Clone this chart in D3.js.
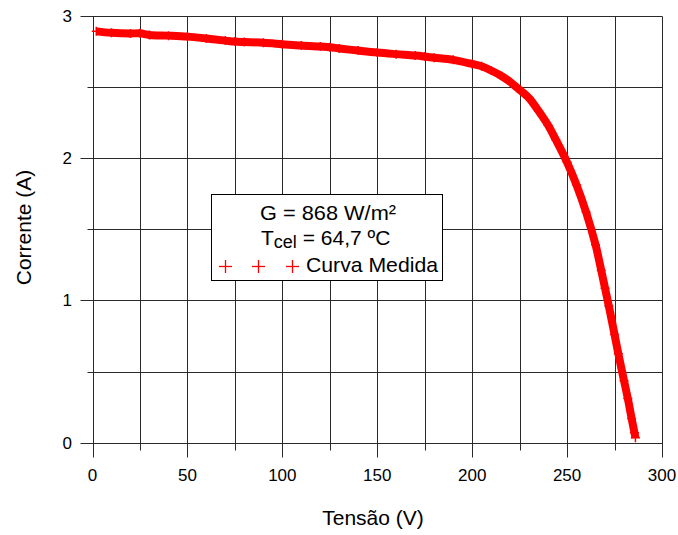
<!DOCTYPE html>
<html><head><meta charset="utf-8">
<script src="https://cdn.jsdelivr.net/npm/d3@7"></script>
<style>body{margin:0;background:#fff}svg{display:block;font-family:"Liberation Sans",Arial,sans-serif}</style>
</head><body><svg id="c" width="678" height="535"></svg>
<script>
const voltage = [2,10,20,25,30,40,50,60,70,75,80,90,100,110,120,125,130,140,150,160,170,175,180,190,200,205,210,215,220,224,230,235,240,244,250,255,260,265,268,270,272,275,277,280,282,284,285.5,286];
const current = [2.89,2.88,2.875,2.876,2.865,2.86,2.853,2.84,2.825,2.818,2.815,2.81,2.80,2.79,2.783,2.779,2.77,2.755,2.741,2.73,2.72,2.713,2.705,2.69,2.661,2.645,2.615,2.58,2.535,2.49,2.42,2.33,2.23,2.13,1.97,1.81,1.62,1.39,1.21,1.085,0.96,0.76,0.625,0.435,0.31,0.17,0.07,0.035];
const xTicks = [0,50,100,150,200,250,300];
const yTicks = [0,1,2,3];
const legendLines = ["G = 868 W/m²", "64,7 ºC", "Curva Medida"];

const svg = d3.select("#c");
const x = d3.scaleLinear().domain([0,300]).range([92.5,662]);
const y = d3.scaleLinear().domain([0,3]).range([442.7,15.7]);
const gridCol = "#2a2a2a";

const g = svg.append("g");
d3.range(0,301,25).forEach(v=>{
  const px = Math.round(x(v))+0.5;
  const major = v%50===0;
  g.append("line").attr("x1",px).attr("x2",px).attr("y1",Math.round(y(3))+0.5).attr("y2",Math.round(y(0))+0.5+(major?14:7))
   .attr("stroke",gridCol).attr("stroke-width",1);
});
d3.range(0,3.01,0.5).forEach(v=>{
  const py = Math.round(y(v))+0.5;
  const major = Math.abs(v-Math.round(v))<1e-9;
  g.append("line").attr("y1",py).attr("y2",py).attr("x1",Math.round(x(0))+0.5-(major?13:6)).attr("x2",Math.round(x(300))+0.5)
   .attr("stroke",gridCol).attr("stroke-width",1);
});
svg.append("g").selectAll("text").data(xTicks).join("text")
  .attr("x",d=>x(d)).attr("y",481).attr("text-anchor","middle").attr("font-size",17).text(d=>d);
svg.append("g").selectAll("text").data(yTicks).join("text")
  .attr("x",72).attr("y",d=>y(d)+6).attr("text-anchor","end").attr("font-size",17).text(d=>d);
svg.append("text").attr("x",373).attr("y",525).attr("text-anchor","middle").attr("font-size",21).text("Tensão (V)");
svg.append("text").attr("transform","translate(31,227.5) rotate(-90)").attr("text-anchor","middle").attr("font-size",21).text("Corrente (A)");

const line = d3.line().x((d,i)=>x(voltage[i])).y((d,i)=>y(current[i])).curve(d3.curveCatmullRom.alpha(0.5));
svg.append("path").datum(current).attr("d",line).attr("fill","none").attr("stroke","#ff0000").attr("stroke-width",8).attr("stroke-linejoin","round").attr("stroke-linecap","butt");
svg.append("g").selectAll("path").data(current).join("path")
  .attr("transform",(d,i)=>`translate(${x(voltage[i])},${y(d)})`)
  .attr("d","M-4.5,0H4.5M0,-4.5V4.5")
  .attr("stroke","#ff0000").attr("stroke-width",1.5).attr("fill","none");

const lg = svg.append("g");
lg.append("rect").attr("x",211.5).attr("y",194.5).attr("width",231).attr("height",86).attr("fill","#fff").attr("stroke","#000").attr("stroke-width",1);
lg.append("text").attr("x",260).attr("y",219.5).attr("font-size",21).attr("textLength",136).attr("lengthAdjust","spacingAndGlyphs").text(legendLines[0]);
const t2 = lg.append("text").attr("x",261).attr("y",244.5).attr("font-size",21);
t2.append("tspan").text("T");
t2.append("tspan").attr("font-size",18).attr("dy",3).text("cel");
t2.append("tspan").attr("dy",-3).text(" = " + legendLines[1]);
[225.5,258.5,292.5].forEach(px=>{
  lg.append("line").attr("x1",px-6.5).attr("x2",px+6.5).attr("y1",266.5).attr("y2",266.5).attr("stroke","#ff0000").attr("stroke-width",1.3);
  lg.append("line").attr("x1",px).attr("x2",px).attr("y1",260).attr("y2",273).attr("stroke","#ff0000").attr("stroke-width",1.3);
});
lg.append("text").attr("x",306).attr("y",272).attr("font-size",21).attr("textLength",132).attr("lengthAdjust","spacingAndGlyphs").text(legendLines[2]);
</script></body></html>
